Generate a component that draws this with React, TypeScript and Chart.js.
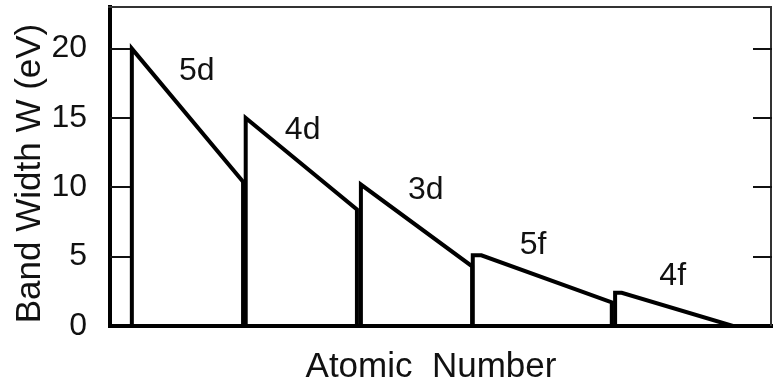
import { useEffect, useRef } from "react";
import { Chart, registerables } from "chart.js";

Chart.register(...registerables);

// Band families, in the order they run along the axis
const bands = ["5d", "4d", "3d", "5f", "4f"];
// Where each band starts and ends along the atomic-number axis (arbitrary units)
const bandStart = [3.3, 20.5, 37.9, 54.8, 76.3];
const bandEnd = [20.1, 37.3, 54.7, 75.8, 94.1];
// Short flat top at the start of a band before it starts to fall (x units)
const bandPlateau = [0, 0, 0, 1.3, 1.0];
// Band width W (eV) at the start and end of each series
const widthAtStart = [20, 15, 10.2, 5.1, 2.4];
const widthAtEnd = [10.4, 8.4, 4.3, 1.7, 0];
// Anchor points for the band name labels (x units, eV)
const labelX = [13.1, 29.1, 47.7, 63.9, 85.0];
const labelY = [18.4, 14.1, 9.8, 5.8, 3.6];
// Axis
const yTicks = [0, 5, 10, 15, 20];
const yMax = 23;
const xTitle = "Atomic  Number";
const yTitle = "Band Width W (eV)";

const FONT = "'Liberation Sans', Arial, Helvetica, sans-serif";
const INK = "#111";

const framePlugin = {
  id: "frameAndLabels",
  afterDraw(chart: any) {
    const { ctx, chartArea, scales } = chart;
    const { left, right, top, bottom } = chartArea;
    const y = scales.y;
    const x = scales.x;
    ctx.save();

    // thin top and right frame
    ctx.strokeStyle = "#333";
    ctx.lineWidth = 2;
    ctx.beginPath();
    ctx.moveTo(left - 2, top);
    ctx.lineTo(right - 1, top);
    ctx.lineTo(right - 1, bottom);
    ctx.stroke();

    // inward tick marks on both vertical sides
    ctx.strokeStyle = INK;
    ctx.lineWidth = 2;
    for (const v of yTicks) {
      if (v === 0) continue;
      const py = Math.round(y.getPixelForValue(v));
      ctx.beginPath();
      ctx.moveTo(left, py);
      ctx.lineTo(left + 20, py);
      ctx.moveTo(right - 19, py);
      ctx.lineTo(right, py);
      ctx.stroke();
    }

    // band names
    ctx.fillStyle = INK;
    ctx.font = `32px ${FONT}`;
    ctx.textAlign = "center";
    ctx.textBaseline = "middle";
    bands.forEach((name, i) => {
      ctx.fillText(name, x.getPixelForValue(labelX[i]), y.getPixelForValue(labelY[i]));
    });

    // axis titles
    ctx.font = `35px ${FONT}`;
    ctx.fillText(xTitle, (left + right) / 2 - 10, bottom + 41);

    ctx.font = `35px ${FONT}`;
    ctx.translate(30, (top + bottom) / 2 + 7);
    ctx.rotate(-Math.PI / 2);
    ctx.fillText(yTitle, 0, 0);
    ctx.restore();
  },
};

export default function App() {
  const ref = useRef<HTMLCanvasElement | null>(null);

  useEffect(() => {
    if (!ref.current) return;
    Chart.defaults.font.family = FONT;

    const datasets = bands.map((name, i) => ({
      label: name,
      data: [
        { x: bandStart[i], y: 0 },
        { x: bandStart[i], y: widthAtStart[i] },
        { x: bandStart[i] + bandPlateau[i], y: widthAtStart[i] },
        { x: bandEnd[i], y: widthAtEnd[i] },
        { x: bandEnd[i], y: 0 },
      ],
      borderColor: "#000",
      borderWidth: 4,
      borderJoinStyle: "miter" as const,
      pointRadius: 0,
      fill: false,
      tension: 0,
    }));

    const chart = new Chart(ref.current, {
      type: "line",
      data: { datasets },
      plugins: [framePlugin],
      options: {
        animation: false,
        responsive: false,
        devicePixelRatio: 1,
        layout: { padding: { top: 7, right: 2, left: 0, bottom: 0 } },
        plugins: {
          legend: { display: false },
          tooltip: { enabled: false },
          title: { display: false },
        },
        scales: {
          x: {
            type: "linear",
            min: 0,
            max: 100,
            grid: { display: false },
            border: { display: true, width: 4, color: "#000" },
            ticks: { display: false },
            afterFit: (s: any) => {
              s.height = 63;
              s.paddingLeft = 0;
              s.paddingRight = 0;
            },
          },
          y: {
            type: "linear",
            min: 0,
            max: yMax,
            grid: { display: false },
            border: { display: true, width: 4, color: "#000" },
            ticks: {
              stepSize: 5,
              includeBounds: false,
              padding: 15,
              color: INK,
              font: { size: 32, family: FONT },
              callback: (v: any) => (yTicks.includes(Number(v)) ? String(v) : ""),
            },
            afterFit: (s: any) => {
              s.width = 110;
              s.paddingTop = 0;
              s.paddingBottom = 0;
            },
          },
        },
      },
    });
    return () => chart.destroy();
  }, []);

  return (
    <div style={{ position: "fixed", left: 0, top: 0, width: 774, height: 389, background: "#fff" }}>
      <canvas ref={ref} width={774} height={389} style={{ display: "block" }} />
    </div>
  );
}
